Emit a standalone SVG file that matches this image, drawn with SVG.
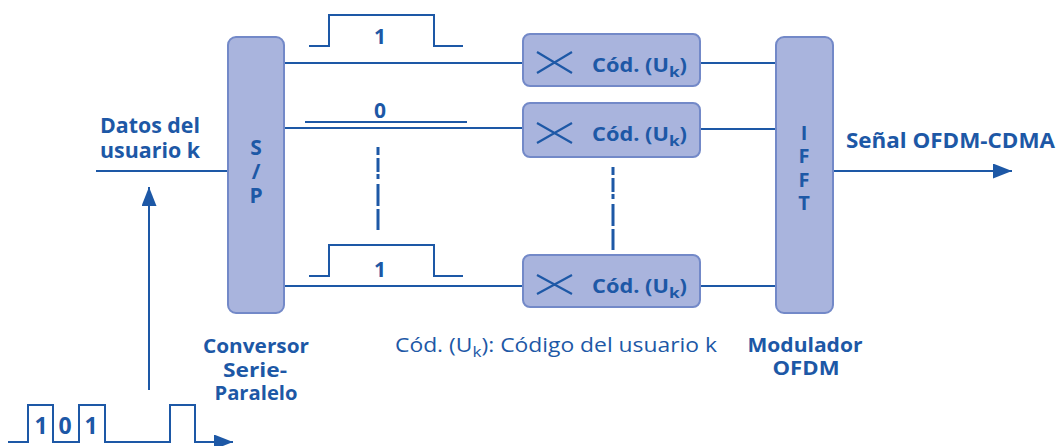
<svg xmlns="http://www.w3.org/2000/svg" width="1060" height="446" viewBox="0 0 1060 446">
  <style>
    .ln { stroke: #1d58a6; stroke-width: 2; fill: none; }
    .dash { stroke: #1d58a6; stroke-width: 3; fill: none; stroke-dasharray: 8 3 14 2 5 5 22 3 22; }
    .blk { fill: #a9b4dd; stroke: #7389c8; stroke-width: 2; }
    .t { font-family: "Open Sans", "Noto Sans", sans-serif; fill: #1d58a6; }
    .b { font-weight: bold; }
    .mid { text-anchor: middle; }
    .cross { stroke: #1d58a6; stroke-width: 2.2; fill: none; }
  </style>
  <defs>
    <marker id="ah" viewBox="0 0 19 15" refX="19" refY="7.5" markerWidth="19" markerHeight="15" markerUnits="userSpaceOnUse" orient="auto">
      <path d="M0,0 L19,7.5 L0,15 z" fill="#1d58a6"/>
    </marker>
  </defs>
  <rect width="1060" height="446" fill="#ffffff"/>

  <g id="connectors">
    <line class="ln" x1="96" y1="171" x2="228" y2="171"/>
    <line class="ln" x1="149" y1="390" x2="149" y2="187" stroke-width="3" marker-end="url(#ah)"/>
    <line class="ln" x1="284" y1="63" x2="523" y2="63"/>
    <line class="ln" x1="284" y1="128" x2="523" y2="128"/>
    <line class="ln" x1="284" y1="286" x2="523" y2="286"/>
    <line class="ln" x1="700" y1="63" x2="776" y2="63"/>
    <line class="ln" x1="700" y1="129" x2="776" y2="129"/>
    <line class="ln" x1="700" y1="286" x2="776" y2="286"/>
    <line class="ln" x1="833" y1="171" x2="1012" y2="171" stroke-width="3" marker-end="url(#ah)"/>
    <line class="dash" x1="378" y1="147" x2="378" y2="230"/>
    <line class="dash" x1="613" y1="167" x2="613" y2="250"/>
  </g>

  <g id="input-label">
    <text class="t b" font-size="21"><tspan x="100" y="133" textLength="100" lengthAdjust="spacingAndGlyphs">Datos del</tspan><tspan x="100" y="158" textLength="100" lengthAdjust="spacingAndGlyphs">usuario k</tspan></text>
  </g>

  <g id="input-signal">
    <polyline class="ln" points="8,442 28,442 28,405 53,405 53,442 79,442 79,405 105,405 105,442 170,442 170,405 195,405 195,442 218,442"/>
    <line class="ln" x1="215" y1="442" x2="233" y2="442" marker-end="url(#ah)"/>
    <text class="t b mid" x="41" y="434" font-size="23">1</text>
    <text class="t b mid" x="65" y="434" font-size="23">0</text>
    <text class="t b mid" x="91" y="434" font-size="23">1</text>
  </g>

  <g id="sp">
    <rect class="blk" x="228" y="37" width="56" height="276" rx="8"/>
    <text class="t b mid" font-size="21"><tspan x="256" y="155">S</tspan><tspan x="256" y="179">/</tspan><tspan x="256" y="203">P</tspan></text>
  </g>

  <g id="sp-label">
    <text class="t b mid" font-size="20"><tspan x="256" y="353" textLength="106" lengthAdjust="spacingAndGlyphs">Conversor</tspan><tspan x="255" y="377" textLength="64" lengthAdjust="spacingAndGlyphs">Serie-</tspan><tspan x="256" y="400" textLength="83" lengthAdjust="spacingAndGlyphs">Paralelo</tspan></text>
  </g>

  <g id="pulse-1">
    <polyline class="ln" points="309,46 329,46 329,15 434,15 434,46 463,46"/>
    <text class="t b mid" x="380" y="44" font-size="21">1</text>
  </g>
  <g id="pulse-0">
    <line class="ln" x1="305" y1="122" x2="467" y2="122"/>
    <text class="t b mid" x="380" y="118" font-size="21">0</text>
  </g>
  <g id="pulse-n">
    <polyline class="ln" points="309,276 329,276 329,245 434,245 434,276 463,276"/>
    <text class="t b mid" x="380" y="277" font-size="21">1</text>
  </g>

  <g id="code-1">
    <rect class="blk" x="523" y="34" width="177" height="52" rx="7"/>
    <path class="cross" d="M537,52 L572,73 M537,73 L572,52"/>
    <text class="t b" x="592" y="72" font-size="19" textLength="95" lengthAdjust="spacingAndGlyphs">Cód. (U<tspan font-size="15" dy="5">k</tspan><tspan dy="-5">)</tspan></text>
  </g>
  <g id="code-2">
    <rect class="blk" x="523" y="103" width="177" height="54" rx="7"/>
    <path class="cross" d="M537,123 L572,143 M537,143 L572,123"/>
    <text class="t b" x="592" y="141" font-size="19" textLength="95" lengthAdjust="spacingAndGlyphs">Cód. (U<tspan font-size="15" dy="5">k</tspan><tspan dy="-5">)</tspan></text>
  </g>
  <g id="code-n">
    <rect class="blk" x="523" y="255" width="177" height="52" rx="7"/>
    <path class="cross" d="M537,275 L572,294 M537,294 L572,275"/>
    <text class="t b" x="592" y="293" font-size="19" textLength="95" lengthAdjust="spacingAndGlyphs">Cód. (U<tspan font-size="15" dy="5">k</tspan><tspan dy="-5">)</tspan></text>
  </g>

  <g id="legend">
    <text class="t" x="395" y="352" font-size="20" textLength="322" lengthAdjust="spacingAndGlyphs">Cód. (U<tspan font-size="15" dy="5">k</tspan><tspan dy="-5">): Código del usuario k</tspan></text>
  </g>

  <g id="ifft">
    <rect class="blk" x="776" y="37" width="57" height="276" rx="8"/>
    <text class="t b mid" font-size="20"><tspan x="804" y="139.5">I</tspan><tspan x="804" y="163">F</tspan><tspan x="804" y="186.5">F</tspan><tspan x="804" y="210">T</tspan></text>
  </g>

  <g id="ifft-label">
    <text class="t b mid" font-size="20"><tspan x="805" y="352" textLength="115" lengthAdjust="spacingAndGlyphs">Modulador</tspan><tspan x="806" y="375" textLength="67" lengthAdjust="spacingAndGlyphs">OFDM</tspan></text>
  </g>

  <g id="output-label">
    <text class="t b" x="846" y="148" font-size="21" textLength="209" lengthAdjust="spacingAndGlyphs">Señal OFDM-CDMA</text>
  </g>
</svg>
